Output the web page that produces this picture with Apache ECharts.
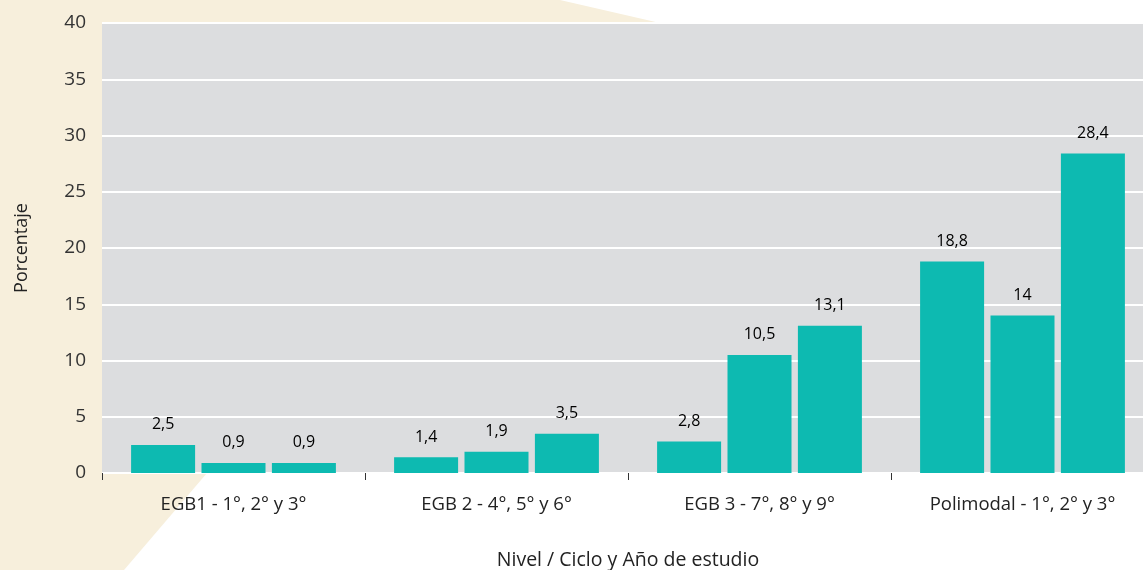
<!DOCTYPE html>
<html><head><meta charset="utf-8">
<script src="https://cdn.jsdelivr.net/npm/echarts@6/dist/echarts.min.js"></script>
<style>html,body{margin:0;padding:0;background:#fff;overflow:hidden}#c{width:1143px;height:570px}</style>
</head><body><div id="c"></div>
<script>
const categories = ['EGB1 - 1°, 2° y 3°', 'EGB 2 - 4°, 5° y 6°', 'EGB 3 - 7°, 8° y 9°', 'Polimodal - 1°, 2° y 3°'];
const year1 = [2.5, 1.4, 2.8, 18.8];
const year2 = [0.9, 1.9, 10.5, 14];
const year3 = [0.9, 3.5, 13.1, 28.4];
const yTicks = {min: 0, max: 40, interval: 5};

const FONT = '"Open Sans", "Noto Sans", sans-serif';
const chart = echarts.init(document.getElementById('c'), null, {renderer: 'canvas'});
function mk(name, data) {
  return {
    name, type: 'bar', data, barWidth: 64, barGap: '10%',
    itemStyle: {color: '#0dbab1'},
    label: {show: true, position: 'top', distance: 12, color: '#000', fontSize: 16, fontWeight: 500, fontFamily: FONT,
      formatter: p => String(p.value).replace('.', ',')}
  };
}
chart.setOption({
  backgroundColor: '#fff',
  animation: false,
  graphic: [{
    type: 'polygon', z: -100, silent: true,
    shape: {points: [[0,0],[560,0],[660,23],[420,250],[207,473],[124,570],[0,570]]},
    style: {fill: '#f7efdc'}
  }],
  grid: {left: 102, top: 23, width: 1052, height: 450, show: true, backgroundColor: '#dcdddf', borderWidth: 0,
    containLabel: false, outerBoundsMode: 'none'},
  xAxis: {
    type: 'category', data: categories,
    axisLine: {show: false},
    axisTick: {show: true, length: 7, lineStyle: {color: '#333', width: 1}},
    axisLabel: {color: '#222', fontSize: 18.5, fontFamily: FONT, margin: 22},
    name: 'Nivel / Ciclo y Año de estudio', nameLocation: 'middle', nameGap: 77,
    nameTextStyle: {color: '#222', fontSize: 19.5, fontFamily: FONT}
  },
  yAxis: {
    type: 'value', min: yTicks.min, max: yTicks.max, interval: yTicks.interval,
    axisLine: {show: false}, axisTick: {show: false},
    splitLine: {lineStyle: {color: '#ffffff', width: 2}},
    axisLabel: {color: '#333', fontSize: 19, fontFamily: FONT, margin: 16},
    name: 'Porcentaje', nameLocation: 'middle', nameRotate: 90, nameGap: 71,
    nameTextStyle: {color: '#222', fontSize: 18, fontFamily: FONT}
  },
  series: [mk('Año 1', year1), mk('Año 2', year2), mk('Año 3', year3)]
});
</script></body></html>
